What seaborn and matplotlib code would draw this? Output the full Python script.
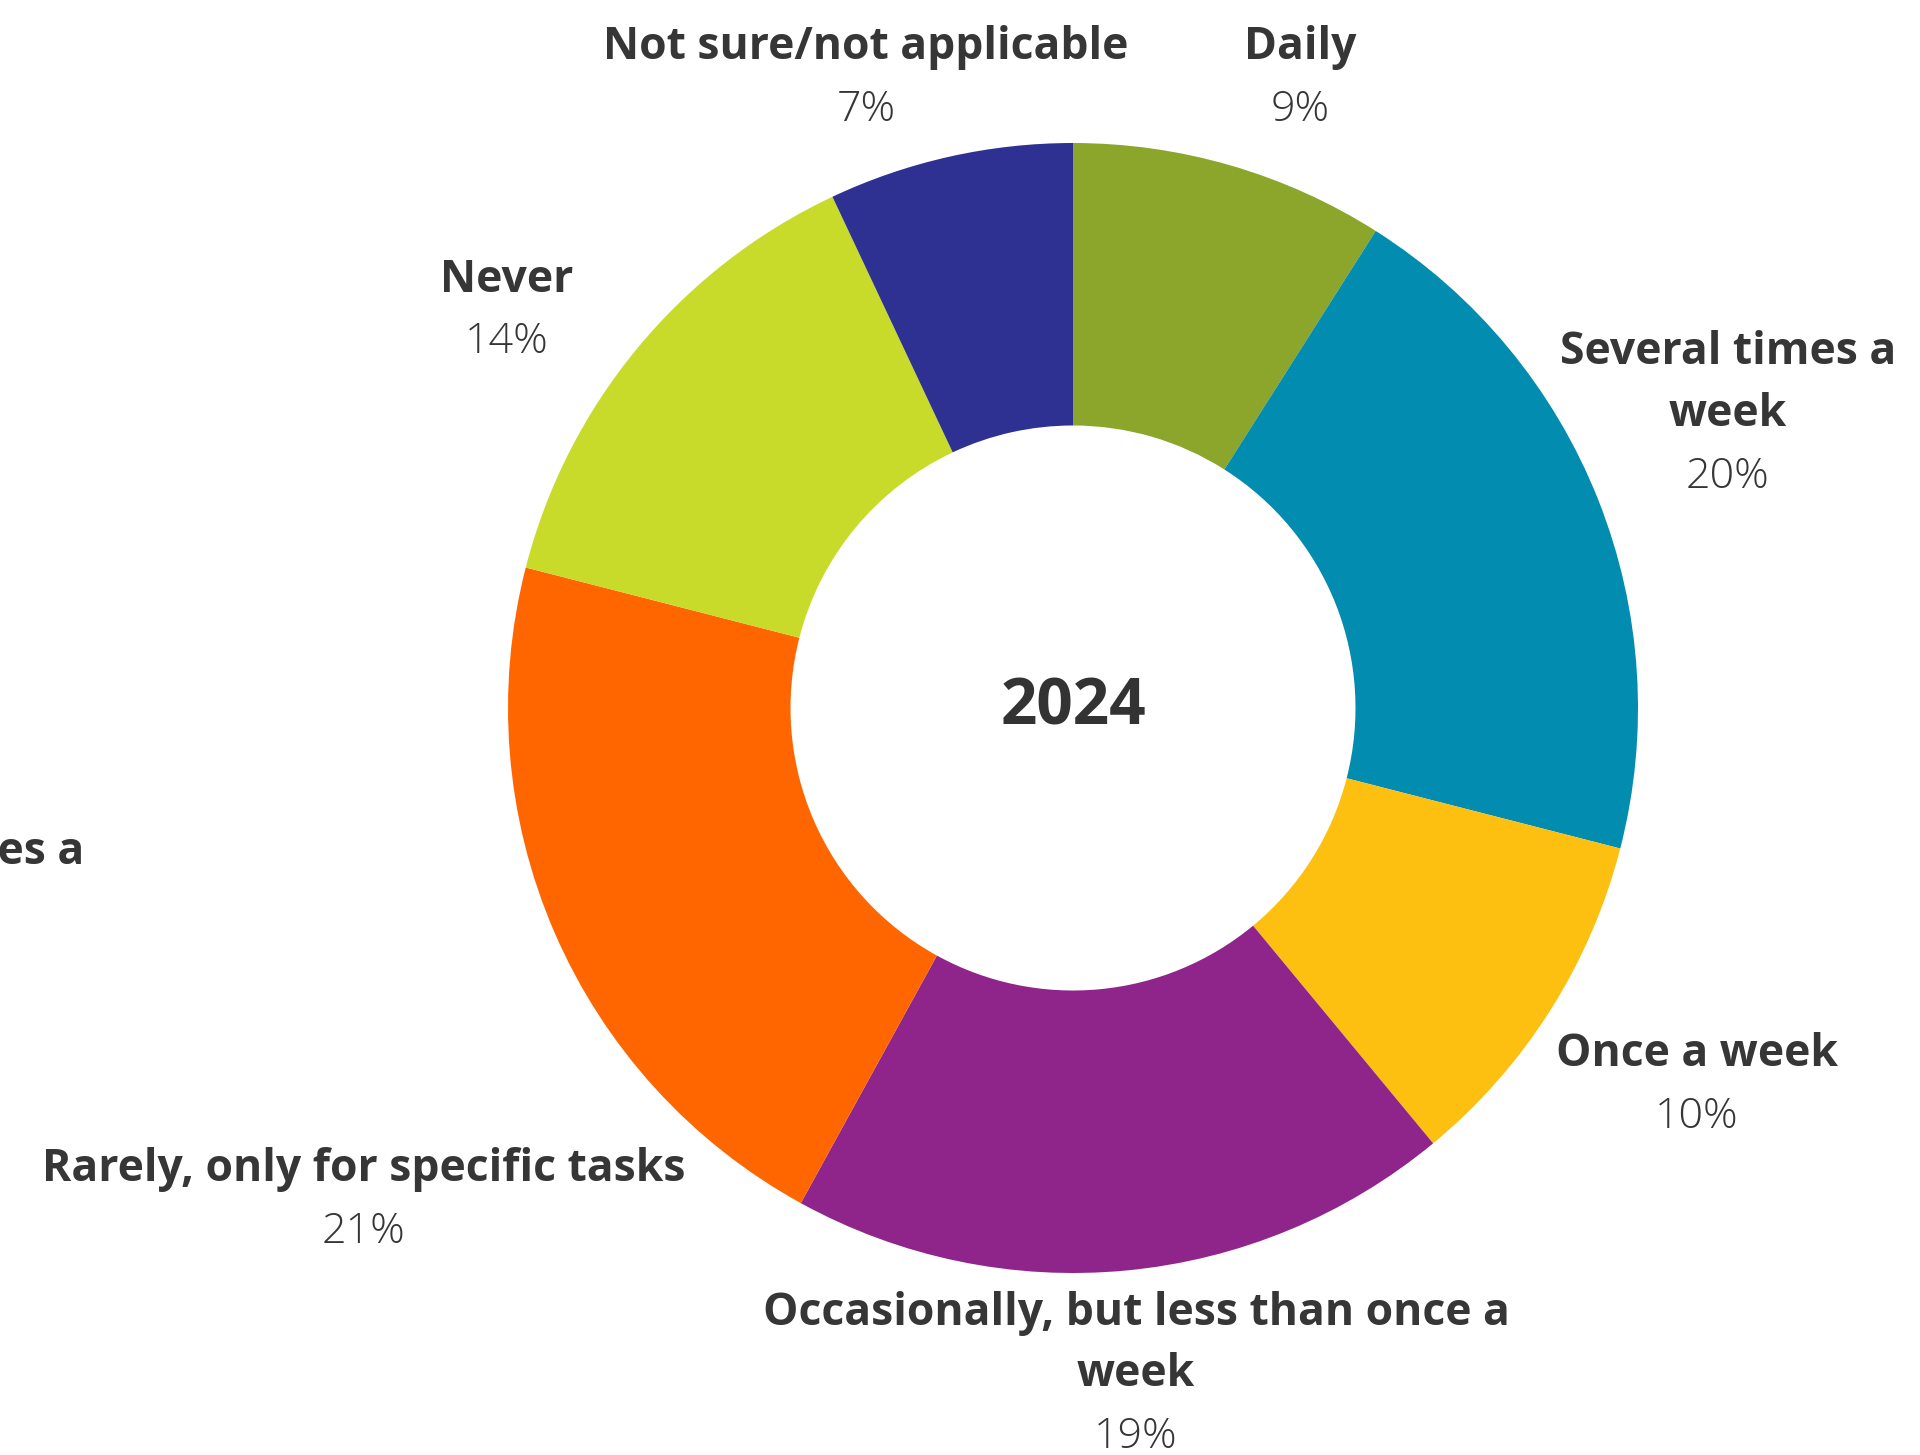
import matplotlib
matplotlib.use("Agg")
import matplotlib.pyplot as plt
import seaborn as sns

sns.set_theme(style="white")
plt.rcParams["font.family"] = ["Open Sans", "DejaVu Sans"]

categories = [
    "Daily",
    "Several times a\nweek",
    "Once a week",
    "Occasionally, but less than once a\nweek",
    "Rarely, only for specific tasks",
    "Never",
    "Not sure/not applicable",
]
shares = [9, 20, 10, 19, 21, 14, 7]
colors = ["#8BA62A", "#018CB0", "#FDC010", "#8F258B", "#FF6600", "#C9DB2A", "#2E3192"]
center_label = "2024"

W, H = 1920, 1455
fig = plt.figure(figsize=(W / 100, H / 100), dpi=100)
fig.patch.set_facecolor("white")

# donut centre and radius in pixels
cx, cy, r = 1073, 708, 565
ax = fig.add_axes([(cx - r) / W, (H - cy - r) / H, 2 * r / W, 2 * r / H])
ax.pie(
    shares,
    colors=colors,
    startangle=90,
    counterclock=False,
    radius=1.0,
    wedgeprops=dict(width=0.5, linewidth=0, edgecolor="none"),
)
ax.set_xlim(-1, 1)
ax.set_ylim(-1, 1)
ax.set_aspect("equal")
ax.axis("off")

ax.text(0, 0, center_label, ha="center", va="center", fontsize=46,
        fontweight="bold", color="#333333")

# label anchor points (pixel x, pixel y of the first line)
label_pos = [
    (1300, 48),
    (1728, 353),
    (1697, 1055),
    (1136, 1313),
    (364, 1170),
    (507, 280),
    (866, 48),
]
line_h = 62
txt_color = "#363636"
for name, val, (px, py) in zip(categories, shares, label_pos):
    lines = name.split("\n")
    for i, ln in enumerate(lines):
        fig.text(px / W, 1 - (py + i * line_h) / H, ln, ha="center", va="center",
                 fontsize=32, fontweight="bold", color=txt_color)
    fig.text(px / W, 1 - (py + len(lines) * line_h) / H, f"{val}%", ha="center",
             va="center", fontsize=31, fontweight="light", color=txt_color)

# partially cut-off label at the left edge
fig.text(84 / W, 1 - 852 / H, "Several times a", ha="right", va="center",
         fontsize=32, fontweight="bold", color=txt_color)

fig.savefig("out.png", dpi=100, facecolor="white")
